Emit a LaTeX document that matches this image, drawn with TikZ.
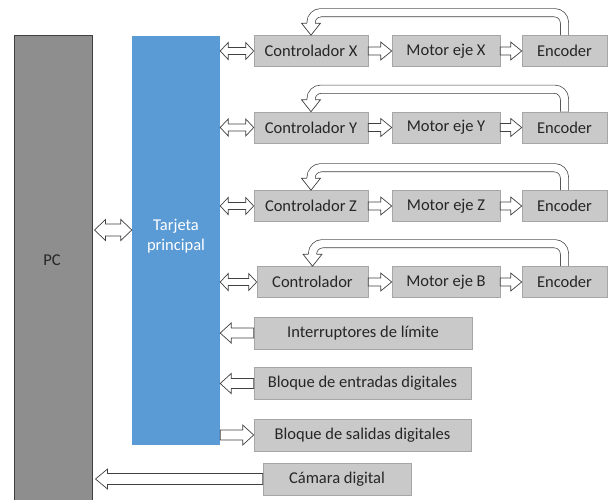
\documentclass[tikz,border=0pt]{standalone}
\usepackage{fontspec}
\setmainfont{Carlito}
\usetikzlibrary{calc}
\definecolor{boxfill}{HTML}{C9C9C9}
\definecolor{boxline}{HTML}{A6A6A6}
\definecolor{arrline}{HTML}{404040}
\definecolor{txt}{HTML}{262626}
\definecolor{blueb}{HTML}{5B9BD5}
\definecolor{pcline}{HTML}{404040}
\definecolor{pcfill}{HTML}{8E8E8E}
\tikzset{
  box/.style={draw=boxline, fill=boxfill, text=txt, minimum height=31pt, inner sep=0pt, line width=0.6pt,
    font=\fontsize{16.5}{19.5}\selectfont},
  barrow/.style={draw=arrline, fill=white, line width=0.7pt, line join=miter},
  fbline/.style={draw=arrline, double=white, double distance=7.5pt, line width=0.7pt, rounded corners=10pt},
}
% single block arrow from #1 to #2 (horizontal); #3 body half, #4 head half, #5 head length
\newcommand\sarrow[5]{\draw[barrow] let \p1=(#1),\p2=(#2),\n1={(\x2>\x1 ? 1 : -1)} in
  (\x1,{\y1+#3}) -- ({\x2-\n1*#5},{\y1+#3}) -- ({\x2-\n1*#5},{\y1+#4}) -- (\x2,\y1)
  -- ({\x2-\n1*#5},{\y1-#4}) -- ({\x2-\n1*#5},{\y1-#3}) -- (\x1,{\y1-#3}) -- cycle;}
% double block arrow, #1 left of #2
\newcommand\darrow[5]{\draw[barrow] let \p1=(#1),\p2=(#2) in
  (\x1,\y1) -- ({\x1+#5},{\y1+#4}) -- ({\x1+#5},{\y1+#3}) -- ({\x2-#5},{\y1+#3})
  -- ({\x2-#5},{\y1+#4}) -- (\x2,\y1) -- ({\x2-#5},{\y1-#4}) -- ({\x2-#5},{\y1-#3})
  -- ({\x1+#5},{\y1-#3}) -- ({\x1+#5},{\y1-#4}) -- cycle;}
% feedback U arrow from encoder #1 to controller #2
\newcommand\fback[2]{%
  \draw[fbline] (#1.north) -- ++(0,-22.5) -| ([yshift=11.5pt]#2.north);
  \fill[white] ([xshift=-9.5pt,yshift=12pt]#2.north) -- (#2.north) -- ([xshift=9.5pt,yshift=12pt]#2.north) -- cycle;
  \draw[arrline, line width=0.7pt, line join=miter] ([xshift=-4.1pt,yshift=12pt]#2.north) -- ([xshift=-9.5pt,yshift=12pt]#2.north)
    -- (#2.north) -- ([xshift=9.5pt,yshift=12pt]#2.north) -- ([xshift=4.1pt,yshift=12pt]#2.north);}
\begin{document}
\begin{tikzpicture}[x=1pt,y=-1pt]
\useasboundingbox (0,0) rectangle (611,499);
\clip (0,0) rectangle (611,499);
% PC
\node[draw=pcline, line width=1pt, fill=pcfill,
  minimum width=78pt, minimum height=470pt, inner sep=0pt] (pc) at (53,270) {};
\node[text=txt, font=\fontsize{16.5}{19.5}\selectfont] (pclabel) at (52,260) {PC};
% main board
\node[fill=blueb, minimum width=88pt, minimum height=409pt, inner sep=0pt] (tp) at (176,240.5) {};
\node[text=white, align=center, font=\fontsize{16.5}{19.5}\selectfont] (tplabel) at (176,236) {Tarjeta\\principal};
% rows
\node[box, minimum width=114pt] (c1) at (311,51) {Controlador X};
\node[box, minimum width=108pt] (m1) at (446,51) {Motor eje X};
\node[box, minimum width=85pt] (e1) at (564.5,51) {Encoder};
\node[box, minimum width=114pt] (c2) at (311,127.5) {Controlador Y};
\node[box, minimum width=108pt] (m2) at (446,127.5) {Motor eje Y};
\node[box, minimum width=85pt] (e2) at (564.5,127.5) {Encoder};
\node[box, minimum width=114pt] (c3) at (311,206) {Controlador Z};
\node[box, minimum width=108pt] (m3) at (446,206) {Motor eje Z};
\node[box, minimum width=85pt] (e3) at (564.5,206) {Encoder};
\node[box, minimum width=111pt] (c4) at (312.5,282) {Controlador};
\node[box, minimum width=108pt] (m4) at (446,282) {Motor eje B};
\node[box, minimum width=85pt] (e4) at (564.5,282) {Encoder};
% lower boxes
\node[box, minimum width=218pt, minimum height=32pt] (lim) at (363,333) {Interruptores de límite};
\node[box, minimum width=217pt, minimum height=32pt] (ent) at (362.5,383.5) {Bloque de entradas digitales};
\node[box, minimum width=217pt, minimum height=32pt] (sal) at (362.5,435) {Bloque de salidas digitales};
\node[box, minimum width=148pt, minimum height=32pt] (cam) at (337,479) {Cámara digital};
% row arrows
\foreach \i in {1,2,3,4}{
  \darrow{tp.east |- c\i.west}{c\i.west}{3.5pt}{8.5pt}{8pt}
  \sarrow{c\i.east}{m\i.west}{4pt}{9pt}{11pt}
  \sarrow{m\i.east}{e\i.west}{4pt}{9pt}{11pt}
  \fback{e\i}{c\i}
}
% lower arrows
\sarrow{lim.west}{tp.east |- lim.west}{5pt}{10pt}{11pt}
\sarrow{ent.west}{tp.east |- ent.west}{5pt}{10pt}{11pt}
\sarrow{tp.east |- sal.west}{sal.west}{5pt}{10pt}{11pt}
\coordinate (pcy) at (0,230);
\darrow{[xshift=2pt]pc.east |- pcy}{tp.west |- pcy}{6pt}{10.5pt}{11pt}
\sarrow{cam.west}{[xshift=3pt]pc.east |- cam.west}{5.5pt}{10pt}{12pt}
\end{tikzpicture}
\end{document}
